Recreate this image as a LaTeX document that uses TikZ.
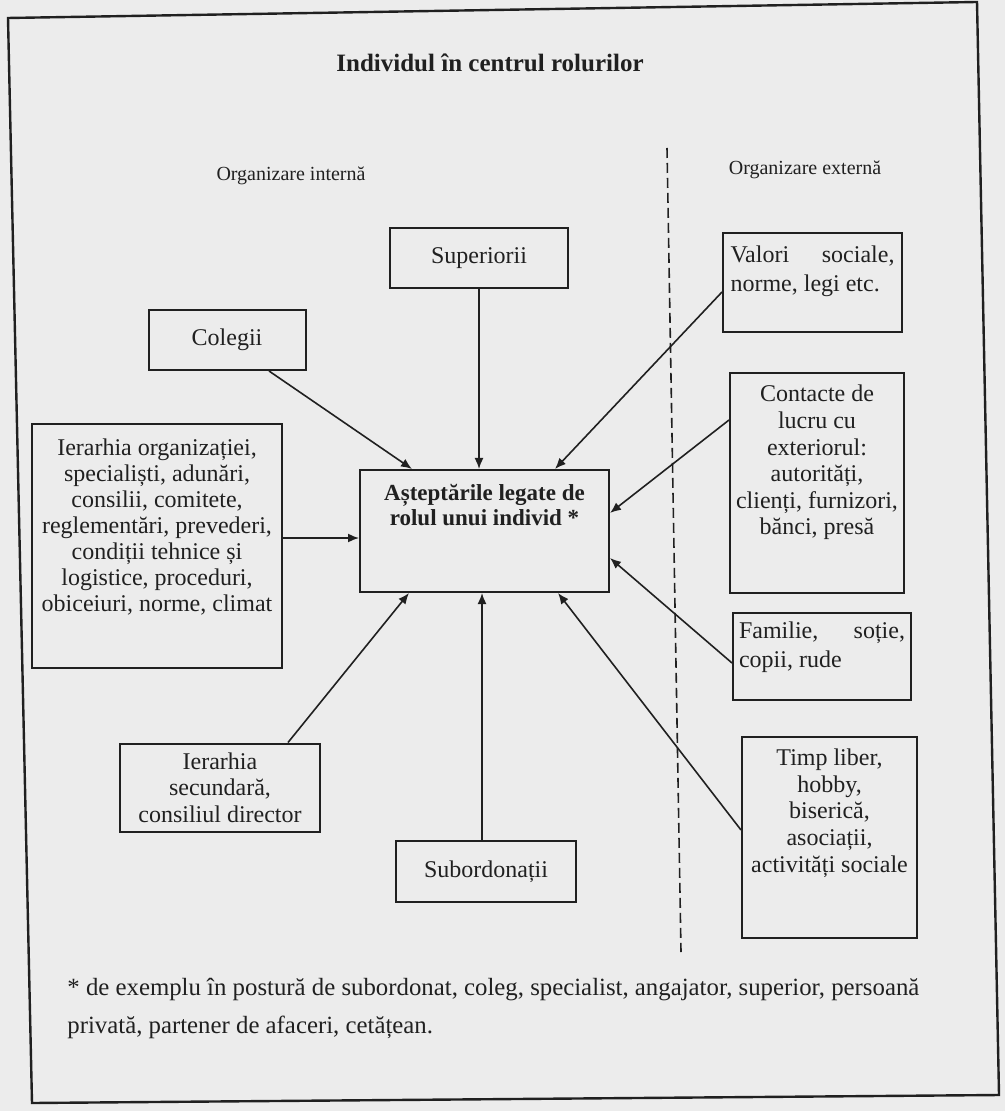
\documentclass[tikz,border=0pt]{standalone}
\usepackage{fontspec}
\setmainfont{Liberation Serif}
\usepackage{tikz}
\usetikzlibrary{calc,positioning,arrows.meta}
\definecolor{paper}{RGB}{236,236,236}
\definecolor{ink}{RGB}{32,32,32}
\newcommand{\lowpad}[1]{\rule[-#1]{0pt}{#1}}

\begin{document}
\begin{tikzpicture}[x=0.5pt,y=-0.5pt]
	\tikzset{box/.style={draw=ink, line width=1pt, rectangle, inner xsep=3pt, inner ysep=2pt, text=ink, align=center, font=\fontsize{12}{13.3}\selectfont},
		arr/.style={draw=ink, line width=0.8pt, -{Latex[length=5.5pt,width=4.5pt]}},
		hdr/.style={text=ink, font=\fontsize{10}{12}\selectfont}}
	\fill[paper] (0,0) rectangle (1005,1111);
	\useasboundingbox (0,0) rectangle (1005,1111);
	\draw[ink, line width=1.2pt] (8,18) -- (977,2) -- (999,1095) -- (32,1103) -- cycle;
	\node[text=ink, font=\fontsize{12.5}{14}\bfseries\selectfont] (title) at (490,63) {Individul în centrul rolurilor};
	\node[hdr] (intern) at (291,176) {Organizare internă};
	\node[hdr] (extern) at (805,170) {Organizare externă};
	\coordinate (dtop) at (667,148);
	\coordinate (dbot) at (681,952);
	\draw[ink, line width=0.8pt, dash pattern=on 5pt off 2.5pt] (dtop) -- (dbot);
	% boxes
	\node[box, minimum width=89pt, minimum height=30pt] (sup) at (479,258) {Superiorii};
	\node[box, align=left, minimum width=89.5pt, minimum height=49.5pt] (val) at (812.5,282.5) {\hbox to 82pt{Valori\hfill sociale,}\\[1.5pt] norme, legi etc.\lowpad{14pt}};
	\node[box, minimum width=78.5pt, minimum height=30pt] (col) at (227,340) {Colegii};
	\node[box, minimum width=86.5pt, minimum height=110pt] (con) at (817,483) {Contacte de\\ lucru cu\\ exteriorul:\\ autorități,\\ clienți, furnizori,\\ bănci, presă\lowpad{23pt}};
	\node[box, minimum width=125pt, minimum height=121.5pt, font=\fontsize{12}{13}\selectfont] (ier) at (157,546) {Ierarhia organizației,\\ specialiști, adunări,\\ consilii, comitete,\\ reglementări, prevederi,\\ condiții tehnice și\\ logistice, proceduri,\\ obiceiuri, norme, climat\lowpad{21pt}};
	\node[box, minimum width=124.5pt, minimum height=61pt, font=\fontsize{11.5}{12.5}\bfseries\selectfont] (cen) at (484.5,531) {Așteptările legate de\\ rolul unui individ *\lowpad{26pt}};
	\node[box, align=left, minimum width=89pt, minimum height=43.5pt] (fam) at (822,656.5) {\hbox to 83pt{Familie,\hfill soție,}\\[1pt] copii, rude\lowpad{12pt}};
	\node[box, minimum width=100pt, minimum height=44pt] (ie2) at (220,787.5) {Ierarhia\\ secundară,\\ consiliul director};
	\node[box, minimum width=87.5pt, minimum height=100.5pt] (tim) at (829.5,837.5) {Timp liber,\\ hobby,\\ biserică,\\ asociații,\\ activități sociale\lowpad{27pt}};
	\node[box, minimum width=90pt, minimum height=30.5pt] (sub) at (486,871.5) {Subordonații};
	% arrows into the centre
	\draw[arr] (sup.south) -- (sup.south |- cen.north);
	\draw[arr] ([xshift=21pt]col.south) -- ([xshift=26.5pt]cen.north west);
	\draw[arr] ([yshift=-4.75pt]val.west) -- ([xshift=-27.5pt]cen.north east);
	\draw[arr] ([yshift=31.5pt]con.west) -- ([yshift=9pt]cen.east);
	\draw[arr] ([yshift=4pt]ier.east) -- ([yshift=4pt]ier.east -| cen.west);
	\draw[arr] ([yshift=-3.25pt]fam.west) -- ([yshift=17.5pt]cen.south east);
	\draw[arr] ([yshift=3.75pt]tim.west) -- ([xshift=-26pt]cen.south east);
	\draw[arr] ([xshift=34pt]ie2.north) -- ([xshift=25pt]cen.south west);
	\draw[arr] ([xshift=-2pt]sub.north) -- ([xshift=-2pt]sub.north |- cen.south);
	% footnote
	\node[text=ink, anchor=base west, inner sep=0pt, font=\fontsize{12.4}{14}\selectfont] (foot1) at (67,995) {* de exemplu în postură de subordonat, coleg, specialist, angajator, superior, persoană};
	\node[text=ink, anchor=base west, inner sep=0pt, font=\fontsize{12.4}{14}\selectfont] (foot2) at (67,1033) {privată, partener de afaceri, cetățean.};
\end{tikzpicture}
\end{document}
